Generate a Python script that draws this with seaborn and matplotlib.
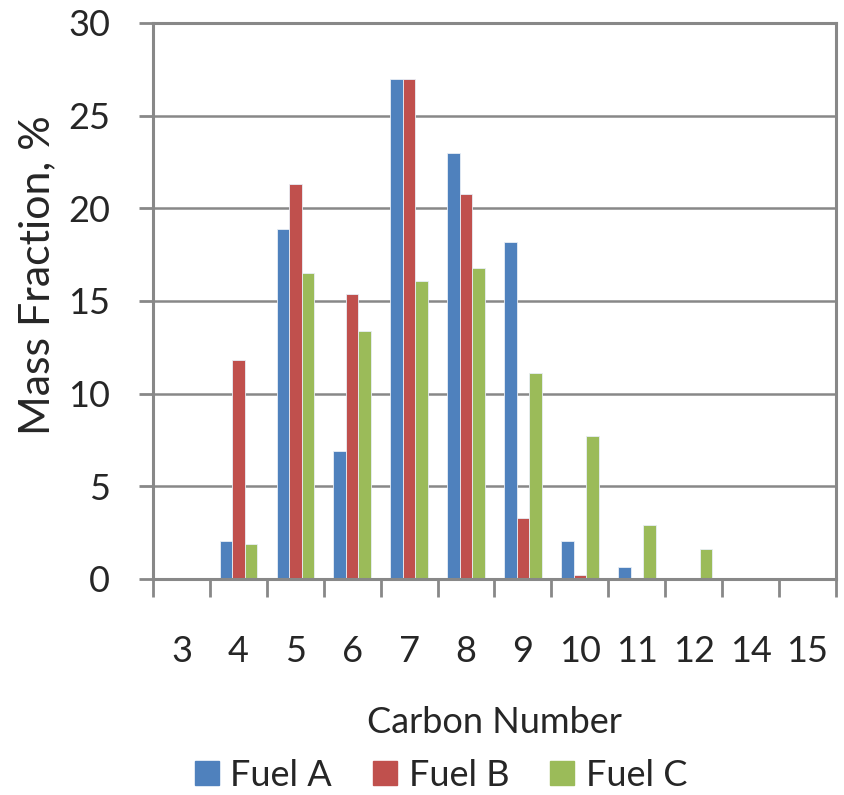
import matplotlib
matplotlib.use("Agg")
import matplotlib.pyplot as plt
import seaborn as sns
import pandas as pd
import numpy as np

carbon = ["3", "4", "5", "6", "7", "8", "9", "10", "11", "12", "14", "15"]
fuel_a = [0.05, 2.05, 18.9, 6.9, 27.0, 23.0, 18.2, 2.05, 0.65, 0.05, 0.05, 0.05]
fuel_b = [0.05, 11.8, 21.3, 15.4, 27.0, 20.8, 3.3, 0.2, 0.05, 0.0, 0.0, 0.0]
fuel_c = [0.05, 1.9, 16.5, 13.4, 16.1, 16.8, 11.1, 7.7, 2.9, 1.6, 0.05, 0.0]
series = ["Fuel A", "Fuel B", "Fuel C"]
colors = ["#4F81BD", "#C0504D", "#9BBB59"]

df = pd.DataFrame({
    "Carbon": carbon * 3,
    "Value": fuel_a + fuel_b + fuel_c,
    "Fuel": [s for s in series for _ in carbon],
})

sns.set_style("white")
plt.rcParams["font.family"] = ["Lato", "DejaVu Sans"]

fig = plt.figure(figsize=(8.45, 7.95), dpi=100)
ax = fig.add_axes([153 / 845, 1 - 579 / 795, (836 - 153) / 845, (579 - 23) / 795])

sns.barplot(data=df, x="Carbon", y="Value", hue="Fuel", order=carbon,
            hue_order=series, palette=colors, width=0.66, ax=ax,
            edgecolor="#e8eef6", linewidth=0.6, saturation=1, legend=False)

gray = "#888888"
ax.set_ylim(0, 30)
ax.set_xlim(-0.5, len(carbon) - 0.5)
ax.set_yticks(np.arange(0, 31, 5))
ax.yaxis.grid(True, color=gray, linewidth=1.8)
ax.set_axisbelow(True)
for s in ax.spines.values():
    s.set_color(gray)
    s.set_linewidth(2.2)

ax.tick_params(axis="y", length=10, width=2, color=gray, labelsize=26, pad=21, left=True)
ax.set_xticks(range(len(carbon)))
ax.set_xticklabels(carbon)
ax.tick_params(axis="x", which="major", length=0, labelsize=26, pad=40)
ax.set_xticks(np.arange(-0.5, len(carbon), 1), minor=True)
ax.tick_params(axis="x", which="minor", length=13, width=2, color=gray, bottom=True)

ax.set_xlabel("Carbon Number", fontsize=26, labelpad=28)
ax.set_ylabel("Mass Fraction, %", fontsize=31)
ax.yaxis.set_label_coords(-0.142, 0.547)

handles = [plt.Line2D([], [], marker="s", linestyle="", markersize=17,
                      markerfacecolor=c, markeredgecolor=c) for c in colors]
fig.legend(handles, series, loc="center", bbox_to_anchor=(438 / 845, 1 - 775 / 795),
           ncol=3, frameon=False, fontsize=26, handletextpad=0.15, columnspacing=0.97,
           handlelength=1.0)

fig.savefig("out.png", dpi=100)
